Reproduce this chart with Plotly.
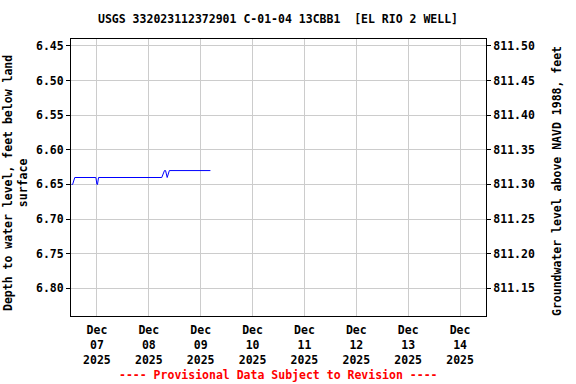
import plotly.graph_objects as go

# Data
times = [
    "2025-12-06 12:15", "2025-12-06 12:45", "2025-12-06 13:45",
    "2025-12-06 23:30", "2025-12-07 00:00", "2025-12-07 00:15", "2025-12-07 00:45",
    "2025-12-08 06:00", "2025-12-08 07:15", "2025-12-08 07:45", "2025-12-08 08:30",
    "2025-12-08 09:30", "2025-12-09 04:30",
]
depth = [6.65, 6.65, 6.64, 6.64, 6.65, 6.65, 6.64, 6.64, 6.63, 6.63, 6.64, 6.63, 6.63]
datum = 817.95
elev = [round(datum - d, 2) for d in depth]

tick_dates = ["2025-12-07", "2025-12-08", "2025-12-09", "2025-12-10",
              "2025-12-11", "2025-12-12", "2025-12-13", "2025-12-14"]
tick_text = ["Dec<br>07<br>2025", "Dec<br>08<br>2025", "Dec<br>09<br>2025", "Dec<br>10<br>2025",
             "Dec<br>11<br>2025", "Dec<br>12<br>2025", "Dec<br>13<br>2025", "Dec<br>14<br>2025"]
left_ticks = [6.45, 6.50, 6.55, 6.60, 6.65, 6.70, 6.75, 6.80]
right_ticks = [811.50, 811.45, 811.40, 811.35, 811.30, 811.25, 811.20, 811.15]

FONT = "DejaVu Sans Mono"
fsz = 11.5
L, R, T, B = 71, 486, 39, 316
PH = B - T


def py(pix):
    return (B - pix) / PH


def px(pix):
    return (pix - L) / (R - L)


fig = go.Figure()
fig.add_trace(go.Scatter(x=times, y=depth, mode="lines",
                         line=dict(color="#0000ff", width=1), showlegend=False,
                         hoverinfo="x+y"))
fig.add_trace(go.Scatter(x=times, y=elev, mode="lines", yaxis="y2",
                         line=dict(color="rgba(0,0,0,0)", width=1), showlegend=False,
                         hoverinfo="skip"))

fig.update_layout(
    width=576, height=384,
    margin=dict(l=L, r=576 - R, t=T, b=384 - B, autoexpand=False),
    paper_bgcolor="white", plot_bgcolor="white",
    font=dict(family=FONT, size=fsz, color="black"),
    xaxis=dict(
        type="date", automargin=False,
        range=["2025-12-06 12:00", "2025-12-14 12:00"],
        tickvals=tick_dates, ticktext=["<b>" + t.replace("<br>", "</b><br><b>") + "</b>" for t in tick_text],
        tickangle=0, ticklabelstandoff=3,
        showgrid=True, gridcolor="#cccccc", gridwidth=1,
        showline=True, linecolor="black", linewidth=1, mirror=True,
        ticks="", zeroline=False,
        tickfont=dict(family=FONT, size=fsz, color="black"),
    ),
    yaxis=dict(
        automargin=False,
        range=[6.84, 6.44],
        tickvals=left_ticks, ticktext=["<b>%.2f</b>" % v for v in left_ticks],
        showgrid=True, gridcolor="#cccccc", gridwidth=1,
        showline=True, linecolor="black", linewidth=1, mirror=True,
        ticks="outside", ticklen=4, tickcolor="black", zeroline=False,
        tickfont=dict(family=FONT, size=fsz, color="black"),
    ),
    yaxis2=dict(
        automargin=False,
        overlaying="y", side="right",
        range=[datum - 6.84, datum - 6.44],
        tickvals=right_ticks, ticktext=["<b>%.2f</b>" % v for v in right_ticks],
        showgrid=False, showline=False,
        ticks="outside", ticklen=4, tickcolor="black", zeroline=False,
        tickfont=dict(family=FONT, size=fsz, color="black"),
    ),
    annotations=[
        dict(text="<b>USGS 332023112372901 C-01-04 13CBB1  [EL RIO 2 WELL]</b>",
             xref="paper", yref="paper", x=px(278), y=py(19), xanchor="center", yanchor="middle",
             showarrow=False, font=dict(family=FONT, size=fsz, color="black")),
        dict(text="<b>Depth to water level, feet below land<br>surface</b>",
             xref="paper", yref="paper", x=px(15), y=py(183), xanchor="center", yanchor="middle",
             textangle=-90, showarrow=False, font=dict(family=FONT, size=fsz, color="black")),
        dict(text="<b>Groundwater level above NAVD 1988, feet</b>",
             xref="paper", yref="paper", x=px(557), y=py(181), xanchor="center", yanchor="middle",
             textangle=-90, showarrow=False, font=dict(family=FONT, size=fsz, color="black")),
        dict(text="<b>---- Provisional Data Subject to Revision ----</b>",
             xref="paper", yref="paper", x=px(278), y=py(375), xanchor="center", yanchor="middle",
             showarrow=False, font=dict(family=FONT, size=fsz, color="#ff0000")),
    ],
)

fig.write_html("out.html", config={"displayModeBar": False},
               post_script="document.body.style.margin='0';")
